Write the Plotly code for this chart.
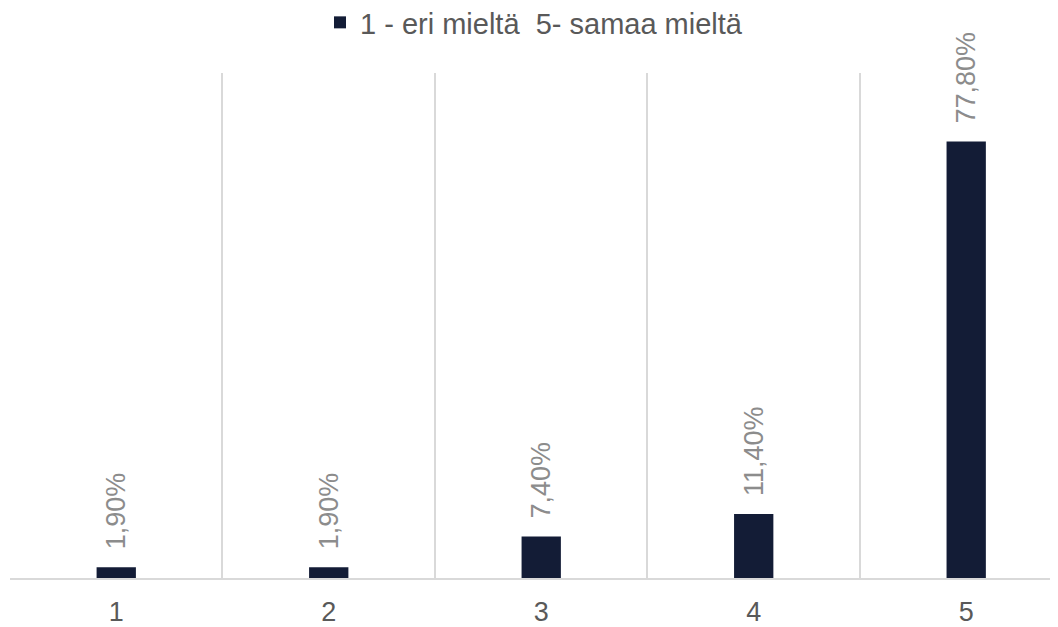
import plotly.graph_objects as go

categories = [1, 2, 3, 4, 5]
values = [1.9, 1.9, 7.4, 11.4, 77.8]
series_name = "1 - eri mieltä  5- samaa mieltä"
labels = ["%.2f%%" % v for v in values]
labels = [s.replace(".", ",") for s in labels]

font_family = "Liberation Sans, Arial, sans-serif"
grid_color = "#d9d9d9"

fig = go.Figure()
fig.add_trace(go.Bar(x=categories,
                     y=values,
                     name=series_name,
                     width=0.185,
                     marker=dict(color="#131c36", line_width=0),
                     text=["\u00a0\u00a0" + s for s in labels],
                     textposition="outside",
                     textangle=-90,
                     constraintext="none",
                     cliponaxis=False,
                     textfont=dict(color="#8c8c8c", size=27, family=font_family),
                     showlegend=True))

# the page body has an 8px margin, so the figure is a bit smaller than the window
fig.update_layout(width=1050, height=619,
                  margin=dict(l=2, r=0, t=65, b=49, autoexpand=False),
                  plot_bgcolor="white",
                  paper_bgcolor="white",
                  font=dict(family=font_family, color="#595959", size=27),
                  legend=dict(orientation="h", x=0.5, xanchor="center",
                              y=1.1, yanchor="middle",
                              font=dict(size=29, color="#595959")),
                  xaxis=dict(range=[0.5, 5.432],
                             tickvals=categories,
                             ticktext=[str(c) for c in categories],
                             showgrid=False,
                             zeroline=False,
                             showline=True,
                             linecolor=grid_color,
                             linewidth=2,
                             ticks="",
                             ticklabelstandoff=9,
                             automargin=False,
                             tickfont=dict(size=27, color="#595959"),
                             minor=dict(tickvals=[0.5, 1.5, 2.5, 3.5, 4.5, 5.5],
                                        showgrid=True,
                                        gridcolor=grid_color,
                                        gridwidth=1.5,
                                        ticks="")),
                  yaxis=dict(range=[0, 90],
                             showgrid=False,
                             zeroline=False,
                             automargin=False,
                             showticklabels=False))

fig.write_html("out.html")
